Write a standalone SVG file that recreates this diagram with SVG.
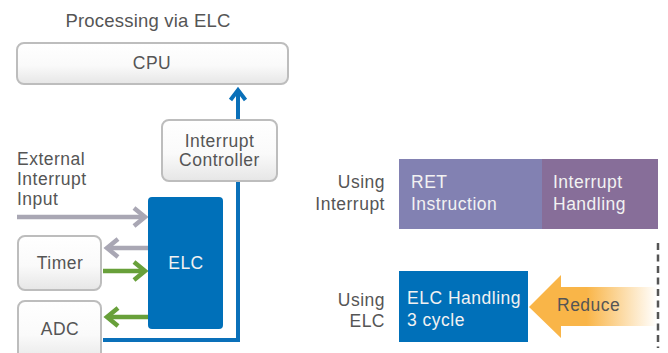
<svg xmlns="http://www.w3.org/2000/svg" width="668" height="353" viewBox="0 0 668 353">
<style>
text{font-family:"Liberation Sans",Arial,sans-serif;font-size:17.5px;letter-spacing:0.5px;fill:#555}
.w{fill:#f2f2f2}
.c{text-anchor:middle}
.r{text-anchor:end}
.box{fill:url(#gb);stroke:#bdbdbd;stroke-width:2}
.ga{fill:none;stroke:#a9a7b4;stroke-width:4.5}
.gr{fill:none;stroke:#68a03a;stroke-width:4.5}
.bl{fill:none;stroke:#0a70b9;stroke-width:4}
</style>
<defs>
<linearGradient id="gb" x1="0" y1="0" x2="0" y2="1">
<stop offset="0" stop-color="#ffffff"/>
<stop offset="0.55" stop-color="#fafafa"/>
<stop offset="1" stop-color="#e6e6e6"/>
</linearGradient>
<linearGradient id="go" gradientUnits="userSpaceOnUse" x1="529" y1="0" x2="657" y2="0">
<stop offset="0" stop-color="#f9b548"/>
<stop offset="0.45" stop-color="#f9b548"/>
<stop offset="1" stop-color="#ffffff"/>
</linearGradient>
</defs>

<text class="c" x="148" y="27" style="font-size:18.5px;letter-spacing:0.2px">Processing via ELC</text>

<g id="connectors">
<path class="bl" d="M103,340 H238 V91"/>
<path class="bl" d="M230.5,100 L238,90 L245.5,100"/>
<path class="ga" d="M17,217 H145"/>
<path class="ga" d="M134,208 L145,217 L134,226"/>
<path class="ga" d="M148,248 H107"/>
<path class="ga" d="M118,239 L107,248 L118,257"/>
<path class="gr" d="M103,271 H145"/>
<path class="gr" d="M134,262 L145,271 L134,280"/>
<path class="gr" d="M148,317 H107"/>
<path class="gr" d="M118,308 L107,317 L118,326"/>
</g>

<g id="cpu">
<rect class="box" x="17" y="43" width="271" height="41" rx="7"/>
<text class="c" x="152" y="69">CPU</text>
</g>

<g id="interrupt-controller">
<rect class="box" x="162" y="120" width="115" height="61" rx="7"/>
<text class="c" x="219.5" y="147">Interrupt</text>
<text class="c" x="219.5" y="166">Controller</text>
</g>

<g id="external-input">
<text x="17" y="165">External</text>
<text x="17" y="185">Interrupt</text>
<text x="17" y="205">Input</text>
</g>

<g id="elc">
<rect x="148" y="197" width="75" height="132" rx="4" fill="#0070b9"/>
<text class="c w" x="186" y="269">ELC</text>
</g>

<g id="timer">
<rect class="box" x="18" y="236" width="83" height="54" rx="7"/>
<text class="c" x="60" y="269">Timer</text>
</g>

<g id="adc">
<rect class="box" x="18" y="301" width="83" height="62" rx="7"/>
<text class="c" x="60" y="335">ADC</text>
</g>

<g id="using-interrupt">
<text class="r" x="385" y="188">Using</text>
<text class="r" x="385" y="210">Interrupt</text>
</g>

<g id="ret-instruction">
<rect x="399" y="159" width="143" height="70" fill="#8281b2"/>
<text class="w" x="411" y="188">RET</text>
<text class="w" x="411" y="210">Instruction</text>
</g>

<g id="interrupt-handling">
<rect x="542" y="159" width="116" height="70" fill="#876e99"/>
<text class="w" x="553" y="188">Interrupt</text>
<text class="w" x="553" y="210">Handling</text>
</g>

<g id="using-elc">
<text class="r" x="385" y="306">Using</text>
<text class="r" x="385" y="327">ELC</text>
</g>

<g id="elc-handling">
<rect x="399" y="271" width="129" height="71" fill="#0070b9"/>
<text class="w" x="407" y="304">ELC Handling</text>
<text class="w" x="407" y="326">3 cycle</text>
</g>

<g id="reduce">
<path d="M529,307 L561,275 L561,287 L657,287 L657,326 L561,326 L561,338 Z" fill="url(#go)"/>
<text x="557" y="311">Reduce</text>
</g>

<line x1="658" y1="243" x2="658" y2="348" stroke="#555" stroke-width="2.5" stroke-dasharray="7 4.5"/>
</svg>
